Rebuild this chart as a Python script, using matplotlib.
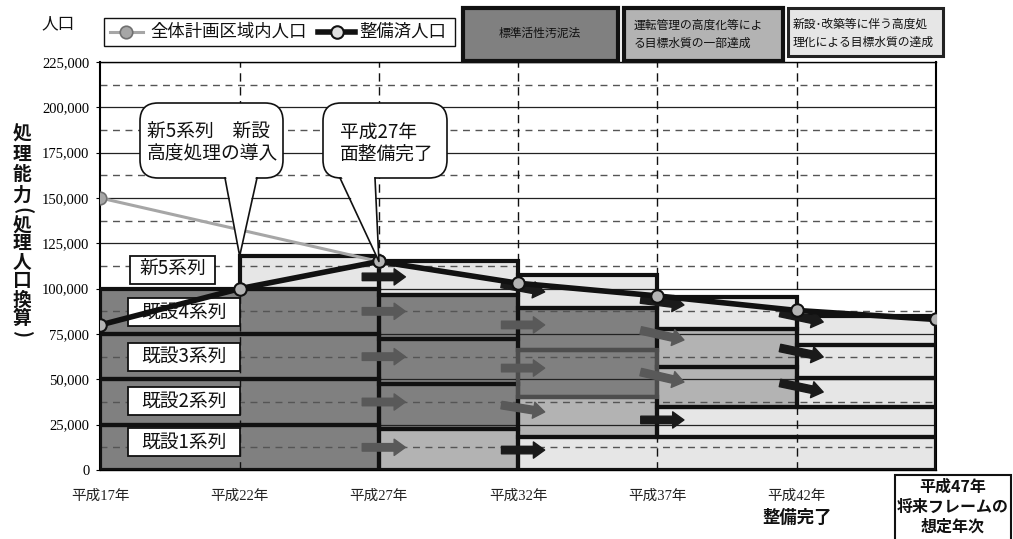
import matplotlib.pyplot as plt
from matplotlib.patches import Rectangle, FancyBboxPatch, Polygon

plt.rcParams['font.family'] = ['Noto Sans CJK JP', 'DejaVu Sans']

W, H = 1013, 539

# 年次（平成）
years = [17, 22, 27, 32, 37, 42, 47]
year_labels = ['平成17年', '平成22年', '平成27年', '平成32年', '平成37年', '平成42年', '']

# 人口
total_years = [17, 27]
total_pop = [150000, 115000]
served_pop = [80000, 100000, 115000, 103000, 96000, 88000, 83000]

# 処理能力ブロック：開始年、終了年、下端、上端、処理方式
block_start = [17, 17, 17, 17, 22,
               27, 27, 27, 27, 27,
               32, 32, 32, 32, 32,
               37, 37, 37, 37,
               42, 42, 42]
block_end = [27, 27, 27, 27, 27,
             32, 32, 32, 32, 32,
             47, 37, 37, 37, 37,
             47, 42, 42, 42,
             47, 47, 47]
block_low = [0, 25000, 50000, 75000, 100000,
             0, 22500, 47500, 72000, 96500,
             0, 18000, 40500, 66000, 89500,
             18000, 35000, 57000, 78000,
             35000, 51000, 69000]
block_high = [25000, 50000, 75000, 100000, 118000,
              22500, 47500, 72000, 96500, 115000,
              18000, 40500, 66000, 89500, 107500,
              35000, 57000, 78000, 95500,
              51000, 69000, 85000]
block_method = ['std', 'std', 'std', 'std', 'adv',
                'part', 'std', 'std', 'std', 'adv',
                'adv', 'part', 'std', 'std', 'adv',
                'adv', 'part', 'part', 'adv',
                'adv', 'adv', 'adv']

# 系列の移行（矢印）：移行年、始点、終点、移行先
arrow_at = [27] * 5 + [32] * 5 + [37] * 4 + [42] * 3
arrow_from = [12500, 37500, 62500, 87500, 106500,
              11000, 35800, 56200, 80000, 102600,
              27600, 54000, 77000, 94000,
              86600, 67300, 48000]
arrow_to = [12500, 37500, 62500, 87500, 106500,
            11000, 32000, 56200, 80000, 98200,
            27600, 48500, 71700, 91000,
            81600, 62300, 43000]
arrow_kind = ['std', 'std', 'std', 'std', 'new',
              'new', 'std', 'std', 'std', 'new',
              'new', 'std', 'std', 'new',
              'new', 'new', 'new']

series_names = ['新5系列', '既設4系列', '既設3系列', '既設2系列', '既設1系列']
series_label_y = [110500, 87000, 62500, 38000, 15500]

fill = {'std': '#808080', 'part': '#b3b3b3', 'adv': '#e6e6e6'}
arrow_color = {'std': '#595959', 'new': '#1a1a1a'}

fig = plt.figure(figsize=(W / 100, H / 100), dpi=100)
ax = fig.add_axes([100.4 / W, 69 / H, 835.6 / W, 408 / H])
ax.set_xlim(17, 47)
ax.set_ylim(0, 225000)

# ブロック塗り
for x0, x1, y0, y1, m in zip(block_start, block_end, block_low, block_high, block_method):
    ax.add_patch(Rectangle((x0, y0), x1 - x0, y1 - y0, facecolor=fill[m],
                           edgecolor='none', zorder=1))

# 目盛線
for v in range(25000, 225001, 25000):
    ax.axhline(v, color='#222222', lw=0.9, zorder=2)
for v in range(12500, 225000, 25000):
    ax.axhline(v, color='#555555', lw=1.0, dashes=(5, 4), zorder=2)
for yr in years[1:-1]:
    ax.axvline(yr, color='#111111', lw=1.0, dashes=(6, 4), zorder=2)

# ブロック枠
for i, (x0, x1, y0, y1) in enumerate(zip(block_start, block_end, block_low, block_high)):
    if i == 12:
        continue
    ax.add_patch(Rectangle((x0, y0), x1 - x0, y1 - y0, fill=False,
                           edgecolor='#111111', lw=3.0, zorder=3))
ax.add_patch(Rectangle((block_start[12], block_low[12]),
                       block_end[12] - block_start[12], block_high[12] - block_low[12],
                       fill=False, edgecolor='#4d4d4d', lw=3.0, zorder=3))

# 矢印
for b, y0, y1, k in zip(arrow_at, arrow_from, arrow_to, arrow_kind):
    c = arrow_color[k]
    ax.annotate('', xy=(b + 0.95, y1), xytext=(b - 0.6, y0), zorder=4,
                arrowprops=dict(arrowstyle='simple,head_length=0.9,head_width=1.3,tail_width=0.6',
                                mutation_scale=9, fc=c, ec=c, shrinkA=0, shrinkB=0))

# 系列名
for i, (name, yc) in enumerate(zip(series_names, series_label_y)):
    x0, x1 = (18.07, 21.12) if i == 0 else (18.0, 22.0)
    ax.add_patch(Rectangle((x0, yc - 7700), x1 - x0, 15400, facecolor='white',
                           edgecolor='#111111', lw=1.3, zorder=5))
    ax.text((x0 + x1) / 2, yc, name, ha='center', va='center', fontsize=13.5,
            color='#111111', zorder=6)

# 人口
ax.plot(total_years, total_pop, color='#a6a6a6', lw=2.2, marker='o', ms=9,
        mfc='#a6a6a6', mec='#707070', mew=1.2, zorder=7)
ax.plot(years, served_pop, color='#111111', lw=4, marker='o', ms=9,
        mfc='#b3b3b3', mec='#111111', mew=1.5, zorder=8)

# 軸
ax.set_yticks(range(0, 225001, 25000))
ax.set_yticklabels([f'{v:,}' for v in range(0, 225001, 25000)],
                   fontfamily='Liberation Serif', fontsize=10.5)
ax.set_xticks(years)
ax.set_xticklabels(year_labels, fontfamily=['Liberation Serif', 'Noto Sans CJK JP'],
                   fontsize=10.5, color='#222222')
ax.tick_params(axis='y', length=3, pad=5)
ax.tick_params(axis='x', length=0, pad=14)
for side in ['left', 'right']:
    ax.spines[side].set_linewidth(1.5)
for side in ['top', 'bottom']:
    ax.spines[side].set_linewidth(1.0)

# 図全体の注記（ピクセル座標）
ov = fig.add_axes([0, 0, 1, 1], zorder=5)
ov.set_xlim(0, W)
ov.set_ylim(H, 0)
ov.axis('off')


def to_px(x, y):
    dx, dy = ax.transData.transform((x, y))
    return dx, H - dy


def callout(x0, x1, y0, y1, bx0, bx1, tip, lines, tx):
    px, py = to_px(*tip)
    ov.add_patch(FancyBboxPatch((x0, y0), x1 - x0, y1 - y0,
                                boxstyle='round,pad=0,rounding_size=18',
                                fc='white', ec='#111111', lw=1.2, zorder=20))
    ov.add_patch(Polygon([(bx0 + 0.8, y1 - 3), (px, py), (bx1 - 0.8, y1 - 3)],
                         closed=True, fc='white', ec='none', zorder=21))
    ov.plot([bx0, px, bx1], [y1, py, y1], color='#111111', lw=1.2, zorder=22)
    for j, s in enumerate(lines):
        ov.text(tx, y0 + 29 + 22 * j, s, ha='left', va='center', fontsize=13.5,
                color='#111111', zorder=23)


callout(140, 283, 103, 178, 225, 257, (22, 118000), ['新5系列\u3000新設', '高度処理の導入'], 147)
callout(323, 447, 103, 178, 340, 375, (27, 115000), ['平成27年', '面整備完了'], 340)

# 凡例
ov.text(58, 24, '人口', ha='center', va='center', fontsize=12, color='#111111')
ov.add_patch(Rectangle((104, 18), 351, 28, fc='white', ec='#111111', lw=1.0))
ov.plot([110, 143], [32, 32], color='#a6a6a6', lw=2.2)
ov.plot([126], [32], marker='o', ms=9, mfc='#a6a6a6', mec='#707070', mew=1.2)
ov.text(150, 32, '全体計画区域内人口', ha='left', va='center', fontsize=12.5, color='#111111')
ov.plot([318, 355], [32, 32], color='#111111', lw=4)
ov.plot([337], [32], marker='o', ms=9, mfc='#e0e0e0', mec='#111111', mew=1.5)
ov.text(359, 32, '整備済人口', ha='left', va='center', fontsize=12.5, color='#111111')

# 処理方式の凡例
ov.add_patch(Rectangle((463, 8), 155, 53, fc=fill['std'], ec='#111111', lw=3.0))
ov.text(540, 33, '標準活性汚泥法', ha='center', va='center', fontsize=8.5, color='#111111')
ov.add_patch(Rectangle((624, 8), 159, 53, fc=fill['part'], ec='#111111', lw=3.0))
ov.text(634, 25, '運転管理の高度化等によ', ha='left', va='center', fontsize=8.5, color='#111111')
ov.text(634, 43, 'る目標水質の一部達成', ha='left', va='center', fontsize=8.5, color='#111111')
ov.add_patch(Rectangle((788, 8), 155, 48, fc=fill['adv'], ec='#222222', lw=2.2))
ov.text(793, 24, '新設･改築等に伴う高度処', ha='left', va='center', fontsize=8.5, color='#111111')
ov.text(793, 42, '理化による目標水質の達成', ha='left', va='center', fontsize=8.5, color='#111111')

# 縦軸タイトル（縦書き、括弧は回転）
ylabel_chars = list('処理能力') + ['('] + list('処理人口換算') + [')']
ylabel_y = [134, 154, 175, 195, 211, 226, 243, 263, 281, 300, 318, 334]
for ch, yy in zip(ylabel_chars, ylabel_y):
    rot = -90 if ch in '()' else 0
    ov.text(22, yy, ch, ha='center', va='center', fontsize=13.5, fontweight='bold',
            color='#111111', rotation=rot)

# 下部注記
ov.text(797, 518, '整備完了', ha='center', va='center', fontsize=12.5,
        fontweight='bold', color='#111111')
ov.add_patch(Rectangle((895, 475), 116, 66, fc='white', ec='#111111', lw=1.5))
for j, s in enumerate(['平成47年', '将来フレームの', '想定年次']):
    ov.text(953, 487 + 20 * j, s, ha='center', va='center', fontsize=11.5,
            fontweight='bold', color='#111111')

fig.savefig('out.png', dpi=100)
